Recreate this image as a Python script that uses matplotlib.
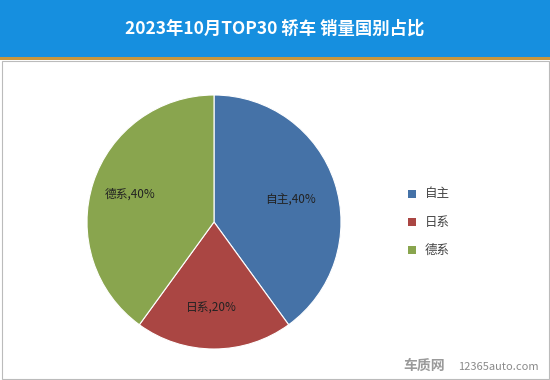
import matplotlib.pyplot as plt
from matplotlib.patches import Rectangle

plt.rcParams['font.family'] = ['Noto Sans CJK SC', 'DejaVu Sans']

# Data
categories = ['自主', '日系', '德系']
shares = [40, 20, 40]
colors = ['#4572A7', '#AA4643', '#89A54E']
title = '2023年10月TOP30 轿车 销量国别占比'

fig = plt.figure(figsize=(5.5, 3.8), dpi=100)
fig.patch.set_facecolor('white')

# header band
fig.patches.append(Rectangle((0, 1 - 57 / 380), 1, 57 / 380, transform=fig.transFigure,
                             facecolor='#168FDF', edgecolor='none', zorder=0))
fig.patches.append(Rectangle((0, 1 - 60 / 380), 1, 3 / 380, transform=fig.transFigure,
                             facecolor='#C8963C', edgecolor='none', zorder=0))
# chart border
fig.patches.append(Rectangle((1.5 / 550, 1.5 / 380), 547 / 550, (380 - 62) / 380,
                             transform=fig.transFigure, facecolor='none',
                             edgecolor='#BBBBBB', linewidth=0.8, zorder=0))
fig.text(0.5, 1 - 29 / 380, title, ha='center', va='center', color='white',
         fontsize=12.5, fontweight='bold')

# pie, centre ~(214, 222), radius ~127 px
r = 127
ax = fig.add_axes([(214 - r) / 550, (380 - 222 - r) / 380, 2 * r / 550, 2 * r / 380])
wedges, texts = ax.pie(shares, colors=colors, startangle=90, counterclock=False,
                       wedgeprops=dict(edgecolor='white', linewidth=0.8))
ax.set_xlim(-1, 1)
ax.set_ylim(-1, 1)
ax.set_aspect('equal')

label_pos = [(0.6, 0.18), (-0.02, -0.68), (-0.66, 0.22)]
for cat, v, (x, y) in zip(categories, shares, label_pos):
    ax.text(x, y, f'{cat},{v}%', ha='center', va='center', fontsize=8.5, color='#222222')

# legend
for i, (cat, c) in enumerate(zip(categories, colors)):
    yy = 1 - (194 + i * 28) / 380
    fig.patches.append(Rectangle((408 / 550, yy - 4 / 380), 8 / 550, 8 / 380,
                                 transform=fig.transFigure, facecolor=c, edgecolor='none'))
    fig.text(425 / 550, yy, cat, ha='left', va='center', fontsize=9, color='#444444')

# watermark
fig.text(403 / 550, 1 - 366 / 380, '车质网', ha='left', va='center', fontsize=10,
         fontweight='bold', color='#9A9A9A')
fig.text(458 / 550, 1 - 367 / 380, '12365auto.com', ha='left', va='center', fontsize=8,
         color='#8A8A8A')

plt.savefig('out.png', dpi=100)
